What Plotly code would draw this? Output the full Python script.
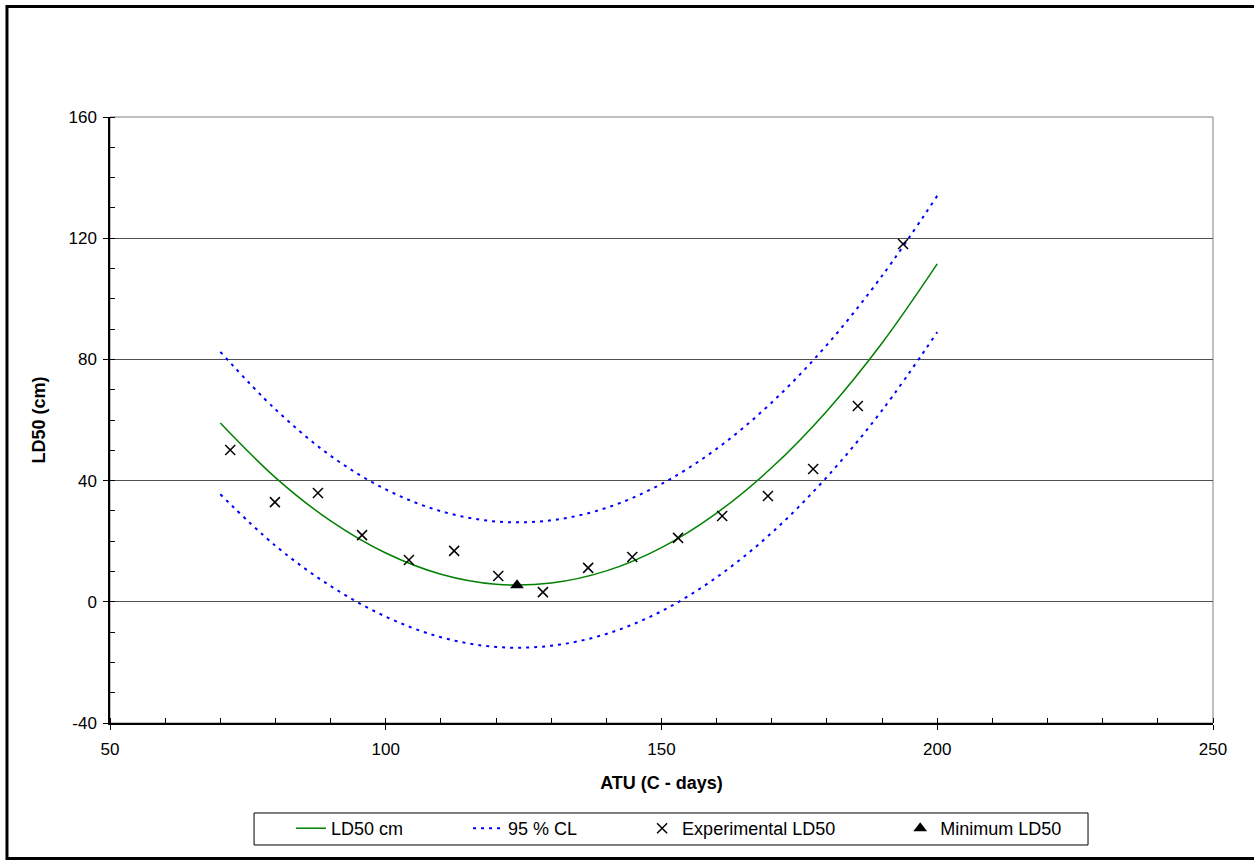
import plotly.graph_objects as go

# --- data ---
curve_atu = [70, 80, 90, 100, 110, 120, 130, 140, 150, 160, 170, 180, 190, 200]
ld50_cm = [59.0, 41.0, 26.7, 16.1, 9.1, 5.8, 6.2, 10.2, 17.9, 29.3, 44.3, 63.0, 85.4, 111.5]
cl_upper = [82.5, 63.5, 48.2, 37.1, 29.9, 26.5, 26.9, 31.0, 38.9, 50.5, 65.8, 84.8, 107.6, 134.0]
cl_lower = [35.5, 18.5, 5.2, -4.9, -11.7, -14.9, -14.5, -10.6, -3.1, 8.1, 22.8, 41.2, 63.2, 89.0]

exp_atu = [71.8, 79.9, 87.7, 95.7, 104.2, 112.4, 120.4, 128.5, 136.7, 144.7, 153.0, 161.0, 169.3, 177.5, 185.6, 193.8]
exp_ld50 = [50.1, 32.9, 35.9, 22.0, 13.8, 16.8, 8.5, 3.2, 11.2, 14.8, 21.1, 28.3, 34.9, 43.8, 64.6, 118.1]

min_atu = [123.8]
min_ld50 = [5.5]

x_ticks = [50, 100, 150, 200, 250]
y_ticks = [-40, 0, 40, 80, 120, 160]
y_tick_text = ["-40", "0", "40", "80", "120", "160"]

FONT = "Liberation Sans, Arial, sans-serif"
PAD = "\u00a0" * 12

fig = go.Figure()
fig.add_trace(go.Scatter(x=curve_atu, y=ld50_cm, mode="lines", name="LD50 cm" + PAD,
                         line=dict(color="#008000", width=1.5, shape="spline")))
fig.add_trace(go.Scatter(x=curve_atu, y=cl_upper, mode="lines", name="95 % CL" + PAD,
                         line=dict(color="#0000FF", width=2, dash="3px,5px", shape="spline")))
fig.add_trace(go.Scatter(x=curve_atu, y=cl_lower, mode="lines", name="95 % CL", showlegend=False,
                         line=dict(color="#0000FF", width=2, dash="3px,5px", shape="spline")))
fig.add_trace(go.Scatter(x=exp_atu, y=exp_ld50, mode="markers", name="Experimental LD50" + PAD,
                         marker=dict(symbol="x-thin", size=10, color="black",
                                     line=dict(color="black", width=1.5))))
fig.add_trace(go.Scatter(x=min_atu, y=min_ld50, mode="markers", name="Minimum LD50",
                         marker=dict(symbol="triangle-up", size=12, color="black")))

# plot-area border (gray), legend box and outer chart frame (black, open on the right)
fig.add_shape(type="rect", xref="paper", yref="paper", x0=0, x1=1, y0=0, y1=1,
              line=dict(color="#808080", width=1), layer="below")
fig.add_shape(type="rect", xref="paper", yref="paper", x0=0.1306, x1=0.8867, y0=-0.2013, y1=-0.1485,
              line=dict(color="black", width=1), layer="below")
fig.add_shape(type="path", xref="paper", yref="paper",
              path="M 1.06,1.1823 L -0.0934,1.1823 L -0.0934,-0.2236 L 1.06,-0.2236",
              line=dict(color="black", width=3), layer="above")

fig.update_layout(
    width=1254, height=863,
    margin=dict(l=110, r=41, t=117, b=140),
    paper_bgcolor="white", plot_bgcolor="white",
    font=dict(family=FONT, size=17, color="black"),
    showlegend=True,
    legend=dict(orientation="h", x=0.1641, y=-0.1436, xanchor="left", yanchor="top",
                borderwidth=0, bgcolor="rgba(0,0,0,0)",
                font=dict(family=FONT, size=18, color="black"),
                itemwidth=30, tracegroupgap=0),
    xaxis=dict(range=[50, 250], tickvals=x_ticks, showgrid=False, zeroline=False,
               showline=True, linecolor="black", linewidth=1.5,
               ticks="outside", ticklen=5, tickcolor="black", ticklabelstandoff=5,
               minor=dict(dtick=10, ticks="inside", ticklen=5, tickcolor="black", showgrid=False),
               title=dict(text="<b>ATU (C - days)</b>", font=dict(family=FONT, size=18), standoff=18),
               tickfont=dict(family=FONT, size=17)),
    yaxis=dict(range=[-40, 160], tickvals=y_ticks, ticktext=y_tick_text,
               showgrid=True, gridcolor="#505050", gridwidth=1,
               zeroline=False, showline=True, linecolor="black", linewidth=1.5,
               ticks="outside", ticklen=5, tickcolor="black", ticklabelstandoff=3,
               minor=dict(dtick=10, ticks="inside", ticklen=5, tickcolor="black", showgrid=False),
               title=dict(text="<b>LD50 (cm)</b>", font=dict(family=FONT, size=18), standoff=18),
               tickfont=dict(family=FONT, size=17)),
)

fig.write_html("out.html", config={"displayModeBar": False},
               post_script="document.body.style.margin='0';")
